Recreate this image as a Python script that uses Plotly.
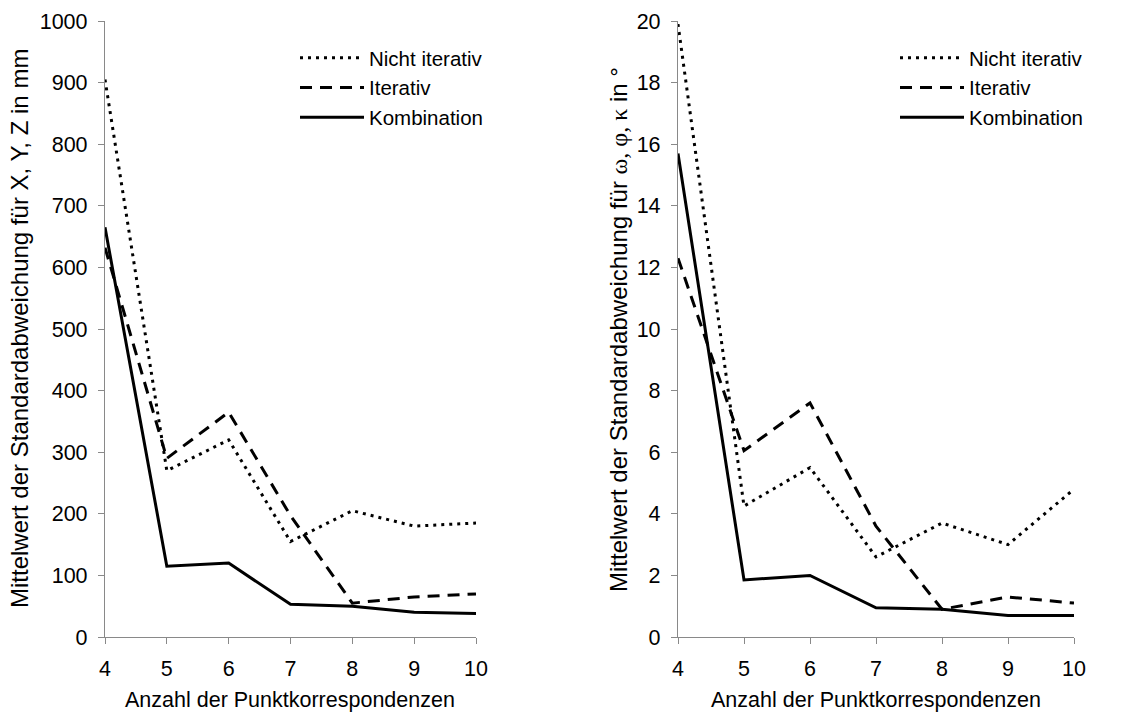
import plotly.graph_objects as go

x_vals = [4, 5, 6, 7, 8, 9, 10]

# Left: position (mm)
pos_nicht_iterativ = [905, 270, 320, 155, 205, 180, 185]
pos_iterativ = [632, 290, 365, 197, 55, 65, 70]
pos_kombination = [665, 115, 120, 53, 50, 40, 38]

# Right: orientation (deg)
ori_nicht_iterativ = [19.9, 4.25, 5.5, 2.6, 3.7, 3.0, 4.8]
ori_iterativ = [12.3, 6.05, 7.6, 3.6, 0.9, 1.3, 1.1]
ori_kombination = [15.7, 1.85, 2.0, 0.95, 0.9, 0.7, 0.7]

series_names = ["Nicht iterativ", "Iterativ", "Kombination"]
dashes = ["3px,5px", "12px,8px", "solid"]

W, H = 1146, 715
FONT = "Liberation Sans, Arial, sans-serif"
FS = 21.5
FSY = 24
FSL = 20.5

fig = go.Figure()

left = [pos_nicht_iterativ, pos_iterativ, pos_kombination]
right = [ori_nicht_iterativ, ori_iterativ, ori_kombination]

for name, ys, d in zip(series_names, left, dashes):
    fig.add_trace(go.Scatter(x=x_vals, y=ys, mode="lines", name=name,
                             line=dict(color="black", width=3, dash=d),
                             xaxis="x", yaxis="y", legend="legend"))
for name, ys, d in zip(series_names, right, dashes):
    fig.add_trace(go.Scatter(x=x_vals, y=ys, mode="lines", name=name,
                             line=dict(color="black", width=3, dash=d),
                             xaxis="x2", yaxis="y2", legend="legend2"))

x0L, x1L = 105 / W, 476 / W
x0R, x1R = 678 / W, 1074 / W
yb, yt = 1 - 637 / H, 1 - 21 / H

axis_common = dict(showgrid=False, zeroline=False, showline=True, linecolor="#898989",
                   linewidth=1.3, ticks="outside", tickcolor="#898989", ticklen=6,
                   tickwidth=1.3, tickfont=dict(family=FONT, size=FS, color="black"),
                   ticklabelstandoff=6, automargin=False)

legend_common = dict(xanchor="left", yanchor="top", bgcolor="rgba(0,0,0,0)",
                     font=dict(family=FONT, size=FSL, color="black"),
                     itemwidth=64, tracegroupgap=0)

fig.update_layout(
    width=W, height=H,
    margin=dict(l=0, r=0, t=0, b=0, pad=0, autoexpand=False),
    paper_bgcolor="white", plot_bgcolor="white",
    font=dict(family=FONT, size=FS, color="black"),
    xaxis=dict(domain=[x0L, x1L], range=[4, 10], dtick=1, anchor="y", **axis_common),
    yaxis=dict(domain=[yb, yt], range=[0, 1000], dtick=100, anchor="x", **axis_common),
    xaxis2=dict(domain=[x0R, x1R], range=[4, 10], dtick=1, anchor="y2", **axis_common),
    yaxis2=dict(domain=[yb, yt], range=[0, 20], dtick=2, anchor="x2", **axis_common),
    legend=dict(x=295 / W, y=1 - 38 / H, **legend_common),
    legend2=dict(x=895 / W, y=1 - 38 / H, **legend_common),
    showlegend=True,
)

ann = []
for xc in [(x0L + x1L) / 2, (x0R + x1R) / 2]:
    ann.append(dict(text="Anzahl der Punktkorrespondenzen", x=xc, y=1 - 700 / H,
                    xref="paper", yref="paper", showarrow=False, xanchor="center",
                    yanchor="middle", font=dict(family=FONT, size=FS)))
ann.append(dict(text="Mittelwert der Standardabweichung für X, Y, Z in mm", x=20 / W,
                y=1 - 329 / H, xref="paper", yref="paper", showarrow=False, textangle=-90,
                xanchor="center", yanchor="middle", font=dict(family=FONT, size=FSY)))
ann.append(dict(text="Mittelwert der Standardabweichung für "
                     "<span style=\"font-family:'Liberation Serif', 'DejaVu Serif', serif\">ω, φ, κ</span>"
                     " in °", x=618 / W,
                y=1 - 330 / H, xref="paper", yref="paper", showarrow=False, textangle=-90,
                xanchor="center", yanchor="middle", font=dict(family=FONT, size=FSY)))
fig.update_layout(annotations=ann)

fig.write_html("out.html", config={"displayModeBar": False},
               post_script="document.body.style.margin='0';")
